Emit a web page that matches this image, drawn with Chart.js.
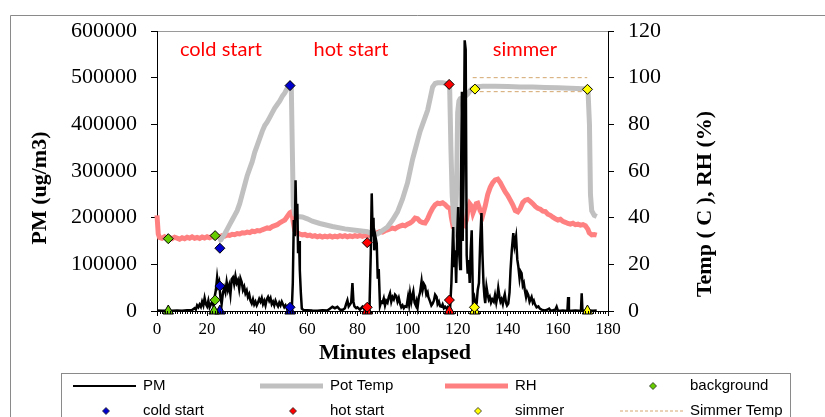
<!DOCTYPE html>
<html>
<head>
<meta charset="utf-8">
<script src="https://cdn.jsdelivr.net/npm/chart.js@4.4.1/dist/chart.umd.min.js"></script>
<style>
  html, body { margin: 0; padding: 0; background: #fff; }
  #wrap { position: relative; width: 825px; height: 417px; }
</style>
</head>
<body>
<div id="wrap"><canvas id="chart"></canvas></div>
<script>
// PM concentration (ug/m3) vs minutes elapsed
const pmSeries = [
  [0,1000],[2,500],[4,800],[6,500],[8,1000],[10,800],[12,1500],[14,2000],[15,6000],[15.5,3000],[16,12000],[16.5,8000],
  [17,14000],[17.5,9000],[18,20000],[18.5,12000],[19,28000],[19.5,15000],[20,10000],[20.5,22000],[21,8000],[21.5,14000],
  [22,20000],[22.5,12000],[23,30000],[23.5,45000],[24,72000],[24.4,55000],[24.8,62000],[25.3,30000],[25.8,15000],
  [26.3,38000],[26.8,50000],[27.3,40000],[27.8,62000],[28.3,45000],[28.8,55000],[29.3,35000],[29.8,68000],[30.3,72000],
  [30.8,58000],[31.3,75000],[31.8,60000],[32.3,66000],[32.8,48000],[33.3,70000],[33.8,62000],[34.3,45000],[34.8,52000],
  [35.3,38000],[35.8,44000],[36.3,30000],[36.8,36000],[37.3,22000],[37.8,16000],[38.3,25000],[38.8,14000],[39.3,20000],
  [39.8,12000],[40.3,18000],[40.8,26000],[41.3,20000],[41.8,28000],[42.3,15000],[42.8,22000],[43.3,12000],[43.8,25000],
  [44.3,30000],[44.8,22000],[45.3,28000],[45.8,15000],[46.3,20000],[46.8,12000],[47.3,22000],[47.8,15000],[48.3,10000],
  [48.8,18000],[49.3,12000],[49.8,20000],[50.3,14000],[50.8,8000],[51.3,12000],[51.8,6000],[52.3,10000],[52.8,4000],
  [53.3,2000],[53.8,3000],[54.2,60000],[54.6,195000],[55,160000],[55.3,280000],[55.6,200000],[56,230000],[56.3,124000],
  [56.7,150000],[57,88000],[57.4,40000],[57.8,5000],[58.5,2000],[60,1500],[62,1000],[64,800],[66,1500],[68,1000],
  [69,5000],[70,9000],[71,6000],[72,9000],[73,3000],[74,2000],[75,6000],[75.5,15000],[76,23000],[76.5,10000],[77,14000],
  [77.5,18000],[78,60000],[78.4,20000],[78.8,10000],[79.5,6000],[80,8000],[81,3000],[82,9000],[83,2000],[84,1000],
  [84.8,5000],[85.3,120000],[85.7,252000],[86.1,160000],[86.4,200000],[86.7,130000],[87.2,159000],[87.7,145000],
  [88.1,69000],[88.5,90000],[89,11000],[89.5,20000],[90,18000],[90.5,27000],[91,12000],[91.5,22000],[92,18000],
  [92.5,30000],[93,38000],[93.5,20000],[94,30000],[94.5,25000],[95,35000],[95.5,32000],[96,20000],[96.5,28000],
  [97,16000],[97.5,8000],[98,12000],[98.5,6000],[99,10000],[99.6,9000],[100.2,30000],[100.6,15000],[101,38000],
  [101.5,20000],[102,35000],[102.3,42000],[102.8,18000],[103.3,12000],[103.6,20000],[104,8000],[104.5,30000],
  [105,40000],[105.6,64000],[106,45000],[106.5,58000],[107,53000],[107.5,35000],[108,40000],[108.3,30000],[109,20000],
  [109.5,12000],[110,16000],[110.5,22000],[111,35000],[111.6,30000],[112,15000],[112.5,20000],[113,10000],[113.6,9000],
  [114,14000],[114.5,6000],[115,9000],[115.6,5000],[116,8000],[116.5,3000],[117,8500],[117.5,60000],[118.2,180000],
  [118.6,94000],[119,130000],[119.4,60000],[119.8,160000],[120.2,223000],[120.6,124000],[121,90000],[121.3,260000],
  [121.7,470000],[122,150000],[122.4,300000],[122.8,580000],[123.2,560000],[123.6,120000],[124,80000],[124.4,109000],
  [124.8,60000],[125.2,130000],[125.6,173000],[126.1,23000],[126.6,30000],[127.1,10000],[127.6,17000],[128,45000],
  [128.5,60000],[129,150000],[129.5,210000],[129.9,120000],[130.3,60000],[130.7,30000],[131,17000],[131.5,52000],
  [132,35000],[132.4,25000],[132.8,30000],[133.3,18000],[133.8,25000],[134.4,20000],[134.9,34000],[135.4,18000],
  [135.8,30000],[136.2,49000],[136.7,30000],[137.1,20000],[137.5,25000],[138,15000],[138.4,28000],[138.8,36000],
  [139.3,18000],[139.7,12000],[140.2,16000],[140.7,40000],[141.1,88000],[141.6,130000],[142.2,167000],[142.7,140000],
  [143.3,159000],[143.8,110000],[144.2,96000],[144.7,70000],[145.1,85000],[145.5,81000],[146,55000],[146.4,60000],
  [146.8,45000],[147.3,30000],[147.7,40000],[148.2,34000],[148.7,20000],[149.1,25000],[149.5,30000],[150,18000],
  [150.4,22000],[150.8,15000],[151.5,8000],[152.2,10000],[152.8,5000],[153.5,3000],[154.5,1000],[155.5,2000],
  [156.5,5000],[157,1000],[158,1500],[159,3000],[159.5,9000],[160,1000],[161,800],[162,1200],[163,800],[163.8,1000],
  [164.1,30000],[164.4,1000],[165.5,800],[167,1000],[168.5,800],[169.2,1000],[169.5,38000],[169.8,1000],[171,800],
  [172.5,1000],[174,800],[175.5,1000]
];

// Pot temperature (C)
const potTemp = [
  [24.5,30],[25.5,30.5],[27,33],[28,35],[29,37],[30,39],[31,41],[32,43],[33,46],[34,50],[35,54],[36,58],[37,61],
  [38,64],[39,68],[40,71],[41,74],[42,77],[43,79.5],[44,81],[45,83],[46,85],[47,87],[48,88.5],[49,90],[50,92],
  [51,93.5],[52,95.5],[53,97],[53.6,96],[54,70],[54.4,45],[55,41.5],[56,40.5],[58,40.3],[60,39.5],[62,38.5],
  [65,37.5],[70,36.2],[75,35.2],[80,34.5],[84,34],[86,33],[88,33],[90,34.5],[92,36],[94,39],[96,42.5],[98,48],
  [100,55],[101,60],[102,65],[103,69],[104,73],[105,77],[106,80],[107,83],[108,86],[109,91],[110,96],[111,97.5],
  [112,97.8],[113,97.8],[114,97.8],[115,97.6],[116,97.3],[116.8,96],[117.3,70],[117.8,50],[118.5,38],[119,36],
  [119.5,50],[120,85],[120.5,90],[121,91],[122,91.5],[123,92],[124,93],[125,94.5],[126,95.5],[127,96],[130,96.3],
  [135,96.3],[140,96.2],[145,96],[150,96],[155,95.8],[160,95.7],[165,95.5],[170,95.3],[172,95],[172.6,80],[173,50],
  [173.5,43],[174.5,41],[175.5,40.5]
];

// Relative humidity (%)
const rhSeries = [
  [0,41],[0.5,33],[1,31.5],[2,31.2],[3,31.8],[4,31],[5,31.5],[6,31],[7,31.6],[8,31.2],[9,30.8],[10,31.4],[11,31],
  [12,31.6],[13,31.2],[14,31.8],[15,31.2],[16,31.5],[17,31.1],[18,31.7],[19,31.3],[20,31.8],[21,31.4],[22,32],
  [23,31.6],[24,32],[25,31.8],[26,32.3],[27,32.1],[28,32.6],[29,32.4],[30,32.9],[31,32.7],[32,33.2],[33,33],
  [34,33.5],[35,33.4],[36,33.8],[37,33.6],[38,34.2],[39,34],[40,34.5],[41,34.3],[42,34.8],[43,35.2],[44,35.6],
  [45,35.4],[46,36.2],[47,36.6],[48,37],[49,37.8],[50,38.4],[51,39],[52,40.5],[53,42],[53.8,42.5],[54.4,38],
  [55,34.5],[56,33.5],[57,33],[58,32.6],[59,32.8],[60,32.3],[61,32.5],[62,32],[63,32.3],[64,31.8],[65,32.2],
  [66,31.7],[67,32.1],[68,31.8],[69,32.2],[70,31.7],[71,32.1],[72,31.8],[73,32.3],[74,31.9],[75,32.3],[76,31.8],
  [77,32.2],[78,31.9],[79,32.3],[80,32],[81,32.4],[82,32],[83,32.4],[84,32.2],[85,32.8],[86,33.4],[87,33.1],
  [88,33.6],[89,34],[90,33.8],[91,34.4],[92,34.8],[93,35.2],[94,35.5],[95,35.2],[96,35.9],[97,36.4],[98,36.8],
  [99,36.5],[100,37.2],[101,37.7],[102,38.5],[103,39.8],[104,39.5],[105,38.4],[106,37.9],[107,37.7],[108,39.5],
  [109,42],[110,44],[111,45.5],[112,46.2],[113,46],[114,46.4],[115,45.6],[116,44.5],[117,44],[117.5,40],[118.2,36],
  [119,35.5],[120,34.7],[120.8,34],[121.5,36],[122,38],[122.8,37],[123.5,39],[124,43],[124.8,46],[125.5,45],
  [126.1,42],[126.8,44],[127.4,46],[128,46.2],[129,43],[130,41],[131,45],[132,50],[133,53],[134,55],[135,56.2],
  [136,56.5],[137,55],[138,53],[139,51],[140,49.5],[141,47.5],[142,45.5],[143,43],[144,42.5],[145,44],[146,46.5],
  [147,47.5],[148,47.8],[149,47],[150,46],[151,44.8],[152,44],[153,43.6],[154,42.8],[155,42.6],[156,41.5],[157,41],
  [158,40.2],[159,39.5],[160,39],[161,39.3],[162,38.4],[163,38],[164,37.5],[165,37.2],[166,37.6],[167,37],[168,37.2],
  [169,36.8],[170,37],[171,36.5],[172,35],[172.5,33.5],[173.5,32.6],[174.5,32.8],[175.5,32.5]
];

// phase markers: [minute, value]
const backgroundTemp = [[4.5, 31], [23.2, 32.3]];
const backgroundPM = [[23.2, 23500]];
const backgroundPMZero = [[4.5, 0], [22.8, 0]];
const coldStartTemp = [[25.1, 26.9], [53.1, 96.6]];
const coldStartPM = [[25.1, 53500], [53.1, 8000]];
const coldStartPMZero = [[25.1, 0], [53.1, 0]];
const hotStartTemp = [[83.9, 29.3], [116.6, 97.1]];
const hotStartPM = [[83.9, 8000], [116.7, 23500]];
const hotStartPMZero = [[83.9, 0], [116.7, 0]];
const simmerTemp = [[126.9, 95.1], [171.8, 95]];
const simmerPM = [[126.7, 8000]];
const simmerPMZero = [[126.8, 0], [171.8, 0]];
const simmerTempHigh = [[126, 100], [171.7, 100]];
const simmerTempLow = [[126, 94], [171.7, 94]];

const phaseLabels = ['cold start', 'hot start', 'simmer'];
const phaseLabelMinutes = [25.5, 77.4, 146.8];
const phaseLabelTemp = 112;

const toXY = arr => arr.map(([x, y]) => ({x, y}));

const GREEN = '#66CC00', BLUE = '#0000CC', RED = '#FF0000', YELLOW = '#FFFF00';
const DASH = '#D4A66E';
const serif = 'Liberation Serif, Times New Roman, serif';
const sans = 'Liberation Sans, Arial, sans-serif';

function markerSet(label, data, color, axis, style) {
  return {
    label: label, data: toXY(data), yAxisID: axis, showLine: false,
    pointStyle: style || 'rectRot', pointRadius: style ? 6 : 5, pointHoverRadius: 5,
    backgroundColor: color, borderColor: '#000', pointBorderWidth: 1,
    order: 0, clip: false
  };
}

function lineSet(label, data, color, width, axis, order) {
  return {
    label: label, data: toXY(data), yAxisID: axis, showLine: true,
    borderColor: color, backgroundColor: color, borderWidth: width,
    pointRadius: 0, tension: 0, order: order, clip: false
  };
}

// legend layout: [label, column, row, kind]
const legendItems = [
  ['PM', 0, 0, 'pm'], ['Pot Temp', 1, 0, 'pot'], ['RH', 2, 0, 'rh'], ['background', 3, 0, GREEN],
  ['cold start', 0, 1, BLUE], ['hot start', 1, 1, RED], ['simmer', 2, 1, YELLOW], ['Simmer Temp', 3, 1, 'dash']
];
const legendTextX = [143, 330, 515, 690];
const legendRowY = [386, 411];

function diamond(ctx, x, y, r, fill) {
  ctx.beginPath();
  ctx.moveTo(x, y - r); ctx.lineTo(x + r, y); ctx.lineTo(x, y + r); ctx.lineTo(x - r, y); ctx.closePath();
  ctx.fillStyle = fill; ctx.fill();
  ctx.strokeStyle = '#222'; ctx.lineWidth = 0.8; ctx.stroke();
}

const decor = {
  id: 'decor',
  beforeDraw(chart) {
    const {ctx, chartArea: a} = chart;
    ctx.save();
    ctx.fillStyle = '#fff';
    ctx.fillRect(0, 0, chart.width, chart.height);
    ctx.strokeStyle = '#8a8a8a'; ctx.lineWidth = 1;
    ctx.beginPath(); ctx.moveTo(10.5, chart.height); ctx.lineTo(10.5, 15.5); ctx.lineTo(chart.width, 15.5); ctx.stroke();
    ctx.strokeStyle = '#9a9a9a';
    ctx.beginPath(); ctx.moveTo(a.left, a.top + 0.5); ctx.lineTo(a.right, a.top + 0.5); ctx.stroke();
    ctx.restore();
  },
  afterDraw(chart) {
    const {ctx, chartArea: a} = chart;
    const xs = chart.scales.x, ys = chart.scales.y2;
    ctx.save();
    // minor ticks on the x axis
    ctx.strokeStyle = '#000'; ctx.lineWidth = 1;
    ctx.beginPath();
    for (let t = 0; t <= 180; t++) {
      if (t % 20 === 0) continue;
      const px = Math.round(xs.getPixelForValue(t)) + 0.5;
      ctx.moveTo(px, a.bottom); ctx.lineTo(px, a.bottom + 3);
    }
    ctx.stroke();

    // axis titles
    ctx.fillStyle = '#000';
    ctx.font = 'bold 22px ' + serif;
    ctx.textAlign = 'center'; ctx.textBaseline = 'middle';
    ctx.fillText('Minutes elapsed', 395, 353);
    ctx.save(); ctx.translate(40, 188); ctx.rotate(-Math.PI / 2); ctx.fillText('PM (ug/m3)', 0, 0); ctx.restore();
    ctx.save(); ctx.translate(705, 204); ctx.rotate(-Math.PI / 2); ctx.fillText('Temp ( C ), RH (%)', 0, 0); ctx.restore();

    // phase labels
    ctx.fillStyle = RED;
    ctx.font = '20px Lato, ' + sans;
    phaseLabels.forEach((txt, i) => {
      ctx.fillText(txt, xs.getPixelForValue(phaseLabelMinutes[i]), ys.getPixelForValue(phaseLabelTemp));
    });

    // legend
    ctx.strokeStyle = '#8a8a8a'; ctx.lineWidth = 1;
    ctx.strokeRect(61.5, 373.5, 729, 60);
    ctx.font = '15px ' + sans;
    ctx.textAlign = 'left';
    legendItems.forEach(([label, col, row, kind]) => {
      const tx = legendTextX[col], y = legendRowY[row];
      ctx.save();
      if (kind === 'pm' || kind === 'pot' || kind === 'rh' || kind === 'dash') {
        ctx.beginPath();
        ctx.moveTo(tx - 70, y); ctx.lineTo(tx - 7, y);
        if (kind === 'pm') { ctx.strokeStyle = '#000'; ctx.lineWidth = 2; }
        if (kind === 'pot') { ctx.strokeStyle = '#C0C0C0'; ctx.lineWidth = 5; }
        if (kind === 'rh') { ctx.strokeStyle = '#FF8080'; ctx.lineWidth = 5; }
        if (kind === 'dash') { ctx.strokeStyle = DASH; ctx.lineWidth = 1; ctx.setLineDash([3, 2]); }
        ctx.stroke();
      } else {
        diamond(ctx, tx - 37, y, 3.5, kind);
      }
      ctx.restore();
      ctx.fillStyle = '#000';
      ctx.fillText(label, tx, y);
    });
    ctx.restore();
  }
};

new Chart(document.getElementById('chart'), {
  type: 'scatter',
  data: {
    datasets: [
      markerSet('background', backgroundTemp, GREEN, 'y2'),
      markerSet('background PM', backgroundPM, GREEN, 'y'),
      markerSet('background 0', backgroundPMZero, GREEN, 'y', 'triangle'),
      markerSet('cold start', coldStartTemp, BLUE, 'y2'),
      markerSet('cold start PM', coldStartPM, BLUE, 'y'),
      markerSet('cold start 0', coldStartPMZero, BLUE, 'y', 'triangle'),
      markerSet('hot start', hotStartTemp, RED, 'y2'),
      markerSet('hot start PM', hotStartPM, RED, 'y'),
      markerSet('hot start 0', hotStartPMZero, RED, 'y', 'triangle'),
      markerSet('simmer', simmerTemp, YELLOW, 'y2'),
      markerSet('simmer PM', simmerPM, YELLOW, 'y'),
      markerSet('simmer 0', simmerPMZero, YELLOW, 'y', 'triangle'),
      lineSet('PM', pmSeries, '#000', 2.5, 'y', 1),
      Object.assign(lineSet('Simmer Temp', simmerTempHigh, DASH, 1, 'y2', 2), {borderDash: [4, 3]}),
      Object.assign(lineSet('Simmer Temp low', simmerTempLow, DASH, 1, 'y2', 2), {borderDash: [4, 3]}),
      lineSet('Pot Temp', potTemp, '#C0C0C0', 5, 'y2', 3),
      lineSet('RH', rhSeries, '#FF8080', 5, 'y2', 4)
    ]
  },
  options: {
    responsive: true,
    maintainAspectRatio: false,
    animation: false,
    events: [],
    layout: { padding: { top: 31, left: 0, right: 0, bottom: 0 } },
    plugins: { legend: { display: false }, tooltip: { enabled: false } },
    scales: {
      x: {
        type: 'linear', position: 'bottom', min: 0, max: 180,
        afterFit: s => { s.height = 106; },
        ticks: { stepSize: 20, color: '#000', padding: 3, maxRotation: 0, font: { family: serif, size: 17 } },
        grid: { drawOnChartArea: false, drawTicks: true, tickLength: 5, color: '#000' },
        border: { color: '#000', width: 1 }
      },
      y: {
        position: 'left', min: 0, max: 600000,
        afterFit: s => { s.width = 157; },
        ticks: { stepSize: 100000, color: '#000', padding: 14, font: { family: serif, size: 22 }, callback: v => String(v) },
        grid: { drawOnChartArea: false, drawTicks: true, tickLength: 6, color: '#000' },
        border: { color: '#000', width: 1 }
      },
      y2: {
        position: 'right', min: 0, max: 120,
        afterFit: s => { s.width = 217; },
        ticks: { stepSize: 20, color: '#000', padding: 14, font: { family: serif, size: 22 }, callback: v => String(v) },
        grid: { drawOnChartArea: false, drawTicks: true, tickLength: 6, color: '#000' },
        border: { color: '#000', width: 1 }
      }
    }
  },
  plugins: [decor]
});
</script>
</body>
</html>
